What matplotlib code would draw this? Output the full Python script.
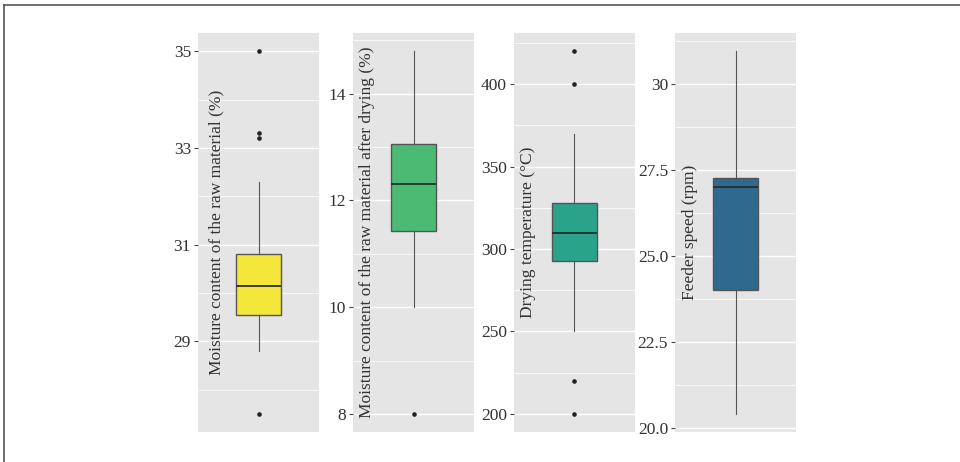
import matplotlib
matplotlib.use("Agg")
import matplotlib.pyplot as plt
from matplotlib.lines import Line2D
from matplotlib.ticker import FixedLocator

plt.rcParams['font.family'] = ['Liberation Serif', 'DejaVu Serif']

labels = ["Moisture content of the raw material (%)",
          "Moisture content of the raw material after drying (%)",
          "Drying temperature (°C)",
          "Feeder speed (rpm)"]
colors = ['#F4E73A', '#4BBB74', '#29A38A', '#2E6A8D']

# box statistics: whisker low, Q1, median, Q3, whisker high
whislo = [28.8, 10.0, 250, 20.4]
q1 = [29.55, 11.43, 293, 24.0]
med = [30.15, 12.3, 310, 27.0]
q3 = [30.8, 13.05, 328, 27.27]
whishi = [32.3, 14.8, 370, 30.95]
fliers = [[35.0, 33.3, 33.2, 27.5], [8.0], [420, 400, 220, 200], []]

ylims = [(27.125, 35.375), (7.66, 15.14), (189, 431), (19.87, 31.48)]
major_ticks = [[29, 31, 33, 35], [8, 10, 12, 14], [200, 250, 300, 350, 400],
               [20.0, 22.5, 25.0, 27.5, 30.0]]
tick_labels = [["29", "31", "33", "35"], ["8", "10", "12", "14"],
               ["200", "250", "300", "350", "400"],
               ["20.0", "22.5", "25.0", "27.5", "30"]]
minor_ticks = [[28, 30, 32, 34], [9, 11, 13, 15], [225, 275, 325, 375, 425],
               [21.25, 23.75, 26.25, 28.75, 31.25]]

fig = plt.figure(figsize=(9.6, 4.62), dpi=100)
W, H = 960, 462
lefts = [198, 353, 514, 675]
label_x = [0.155, 0.115, 0.115, 0.125]
for i in range(4):
    ax = fig.add_axes([lefts[i] / W, (H - 432) / H, 121 / W, 399 / H])
    ax.set_facecolor('#E5E5E5')
    for s in ax.spines.values():
        s.set_visible(False)
    stats = [dict(whislo=whislo[i], q1=q1[i], med=med[i], q3=q3[i],
                  whishi=whishi[i], fliers=fliers[i])]
    ax.bxp(stats, positions=[1], widths=0.456, patch_artist=True,
           showcaps=False,
           boxprops=dict(facecolor=colors[i], edgecolor='#555555', linewidth=1.0),
           medianprops=dict(color='#2B2B2B', linewidth=1.3),
           whiskerprops=dict(color='#555555', linewidth=0.8),
           flierprops=dict(marker='o', markersize=2.3, markerfacecolor='#222222',
                           markeredgecolor='#222222'), zorder=3)
    ax.set_xlim(0.4, 1.6)
    ax.set_ylim(*ylims[i])
    ax.set_xticks([])
    ax.yaxis.set_major_locator(FixedLocator(major_ticks[i]))
    ax.set_yticklabels(tick_labels[i])
    ax.yaxis.set_minor_locator(FixedLocator(minor_ticks[i]))
    ax.tick_params(axis='y', which='major', length=3, width=0.8, color='#444444',
                   labelsize=12.5, labelcolor='#333333', pad=2)
    ax.tick_params(axis='y', which='minor', length=0)
    ax.grid(True, which='major', axis='y', color='white', linewidth=1.0)
    ax.grid(True, which='minor', axis='y', color='white', linewidth=0.5)
    ax.set_axisbelow(True)
    ax.text(label_x[i], 0.5, labels[i], rotation=90, transform=ax.transAxes,
            ha='center', va='center', fontsize=12.5, color='#333333', zorder=5)

fig.add_artist(Line2D([4 / W, 4 / W], [0, 1 - 5 / H], transform=fig.transFigure,
                      color='#555555', linewidth=1.2))
fig.add_artist(Line2D([4 / W, 1], [1 - 5 / H, 1 - 5 / H], transform=fig.transFigure,
                      color='#555555', linewidth=1.2))

fig.savefig('out.png', dpi=100)
